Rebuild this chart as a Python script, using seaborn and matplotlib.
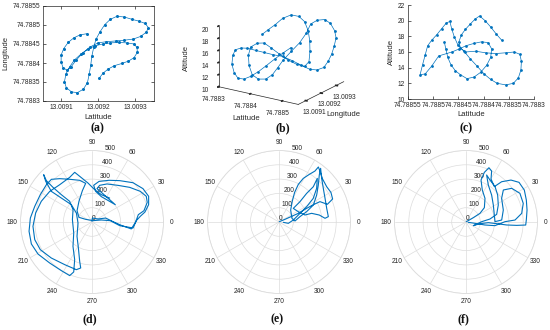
import numpy as np
import matplotlib
matplotlib.use('Agg')
import matplotlib.pyplot as plt
import seaborn as sns

BLUE = '#0072BD'
INK = '#262626'
GRID = '#dcdcdc'

# (a) flight track, latitude vs longitude
lat_a = [13.009202, 13.009212, 13.009226, 13.009243, 13.009264, 13.009281, 13.009296, 13.009305, 13.009304, 13.009296,
         13.009276, 13.009255, 13.009232, 13.009211, 13.009190, 13.009171, 13.009152, 13.009135, 13.009122, 13.009112,
         13.009108, 13.009113, 13.009127, 13.009143, 13.009159, 13.009170, 13.009175, 13.009179, 13.009182, 13.009187,
         13.009193, 13.009204, 13.009217, 13.009232, 13.009250, 13.009270, 13.009290, 13.009310, 13.009326, 13.009335,
         13.009329, 13.009314, 13.009294, 13.009270, 13.009246, 13.009221, 13.009199, 13.009177, 13.009158, 13.009140,
         13.009126, 13.009115, 13.009104, 13.009099, 13.009099, 13.009106, 13.009118, 13.009133, 13.009150, 13.009168]
lon_a = [74.788360, 74.788373, 74.788384, 74.788393, 74.788399, 74.788405, 74.788414, 74.788428, 74.788441, 74.788450,
         74.788453, 74.788454, 74.788453, 74.788450, 74.788445, 74.788436, 74.788423, 74.788408, 74.788390, 74.788371,
         74.788351, 74.788335, 74.788324, 74.788322, 74.788331, 74.788348, 74.788371, 74.788394, 74.788418, 74.788441,
         74.788462, 74.788482, 74.788501, 74.788515, 74.788523, 74.788521, 74.788515, 74.788510, 74.788504, 74.788493,
         74.788481, 74.788470, 74.788463, 74.788460, 74.788458, 74.788456, 74.788453, 74.788442, 74.788427, 74.788408,
         74.788390, 74.788381, 74.788388, 74.788403, 74.788421, 74.788438, 74.788454, 74.788466, 74.788474, 74.788477]

# (b) flight track in 3-D
lat_b = [74.788456, 74.788441, 74.788425, 74.788407, 74.788387, 74.788367, 74.788351, 74.788337, 74.788325, 74.788318,
         74.788321, 74.788329, 74.788347, 74.788361, 74.788378, 74.788395, 74.788414, 74.788434, 74.788455, 74.788474,
         74.788490, 74.788499, 74.788511, 74.788520, 74.788526, 74.788534, 74.788540, 74.788540, 74.788532, 74.788500,
         74.788476, 74.788465, 74.788466, 74.788459, 74.788447, 74.788432, 74.788423, 74.788412, 74.788396, 74.788377,
         74.788358, 74.788348, 74.788346, 74.788353, 74.788369, 74.788386, 74.788402, 74.788419, 74.788436, 74.788455,
         74.788475, 74.788493, 74.788501, 74.788505, 74.788505, 74.788465, 74.788433, 74.788404, 74.788377, 74.788359,
         74.788342, 74.788328]
lon_b = [13.009200, 13.009180, 13.009160, 13.009140, 13.009130, 13.009120, 13.009110, 13.009100, 13.009100, 13.009100,
         13.009100, 13.009100, 13.009100, 13.009110, 13.009130, 13.009150, 13.009170, 13.009190, 13.009210, 13.009230,
         13.009250, 13.009280, 13.009300, 13.009310, 13.009320, 13.009320, 13.009320, 13.009310, 13.009300, 13.009330,
         13.009330, 13.009310, 13.009280, 13.009250, 13.009220, 13.009200, 13.009180, 13.009170, 13.009160, 13.009150,
         13.009150, 13.009150, 13.009150, 13.009150, 13.009160, 13.009170, 13.009180, 13.009200, 13.009220, 13.009240,
         13.009250, 13.009240, 13.009230, 13.009220, 13.009210, 13.009270, 13.009300, 13.009310, 13.009310, 13.009300,
         13.009290, 13.009280]
alt_b = [16.4, 15.6, 14.7, 13.6, 12.5, 11.6, 11.1, 11.2, 12.0, 13.3,
         14.8, 15.8, 16.3, 16.3, 15.9, 15.5, 15.1, 14.8, 14.1, 13.3,
         12.6, 12.2, 12.5, 13.5, 14.6, 16.0, 17.5, 18.8, 20.0, 19.9,
         19.5, 19.0, 17.9, 16.6, 15.4, 14.1, 12.9, 11.8, 11.0, 10.9,
         11.4, 12.8, 14.5, 15.9, 16.6, 16.7, 16.0, 14.9, 13.9, 13.1,
         12.9, 14.0, 15.9, 17.8, 19.6, 19.9, 20.0, 19.8, 18.9, 17.8,
         16.9, 16.1]

# (c) altitude along the track
lat_c = [74.788478, 74.788475, 74.788471, 74.788465, 74.788456, 74.788446, 74.788433, 74.788419, 74.788406, 74.788394,
         74.788386, 74.788384, 74.788391, 74.788404, 74.788419, 74.788435, 74.788448, 74.788463, 74.788489, 74.788503,
         74.788516, 74.788526, 74.788521, 74.788516, 74.788511, 74.788503, 74.788493, 74.788483, 74.788474, 74.788467,
         74.788463, 74.788458, 74.788451, 74.788439, 74.788426, 74.788413, 74.788399, 74.788386, 74.788373, 74.788356,
         74.788341, 74.788331, 74.788326, 74.788325, 74.788328, 74.788339, 74.788356, 74.788376, 74.788396, 74.788416,
         74.788436, 74.788446, 74.788449, 74.788444, 74.788436, 74.788426, 74.788417, 74.788408, 74.788397, 74.788386,
         74.788375, 74.788364]
alt_c = [17.3, 16.4, 15.3, 14.4, 13.6, 13.1, 12.6, 12.8, 13.4, 14.3,
         15.3, 16.4, 17.2, 17.3, 17.1, 16.8, 16.4, 16.0, 15.5, 14.2,
         13.2, 13.1, 14.4, 15.6, 16.8, 17.5, 18.2, 19.0, 19.7, 19.9,
         18.9, 17.9, 16.9, 16.1, 15.1, 14.2, 13.2, 12.5, 12.0, 11.8,
         12.0, 12.7, 13.7, 14.8, 15.7, 16.0, 15.9, 15.8, 15.9, 16.1,
         16.0, 16.5, 17.3, 18.2, 18.9, 19.6, 20.2, 20.6, 20.0, 19.2,
         18.3, 17.5]

# (d)-(f) polar tracks: angle in degrees, radius
theta_d = [90, 85, 27, 16, 2, -6.5, -10, 0, 9, 12.3,
           19.6, 25.3, 32.4, 42.6, 54.7, 68.5, 78.2, 81.5, 68.8, 51.7,
           36.6, 52.6, 69.8, 83.2, 87.4, 80.2, 67.8, 56.2, 43.8, 33.2,
           24.4, 17, 10.7, 6.7, 1.7, -8.3, -7.5, 4.2, 12.1, 53,
           157.2, 160.3, 142.9, 122.2, 107.1, 99.3, 106.5, 117.6, 126.7, 133.6,
           140.7, 152.1, 164.7, 176.3, 188.4, 199.9, 210.7, 224.1, 237.8, 247.4,
           249.9, 245.3, 232, 211, 173.2, 147, 137.2, 138.3, 138.4, 137.8,
           135.6, 138.7, 143, 142, 140, 150.1, 184.1, 223.7, 242.3, 252.6,
           256.2, 251.8, 237.4, 221.5, 208.2, 197.1, 184.2, 170.9, 157.8, 144.1,
           130.9, 116.6, 109.2, 105.1, 95.9, 85.3, 71.1, 53.6]
r_d = [5, 28, 47, 100, 142, 206, 279, 305, 328, 372,
       410, 420, 400, 358, 314, 286, 262, 236, 212, 199,
       203, 188, 189, 216, 257, 288, 315, 348, 397, 426,
       435, 414, 377, 340, 310, 290, 195, 128, 67, 12,
       48, 97, 131, 171, 229, 274, 304, 337, 378, 412,
       412, 409, 415, 432, 445, 451, 439, 412, 402, 406,
       372, 290, 216, 149, 138, 158, 213, 287, 365, 431,
       473, 431, 356, 272, 189, 126, 98, 145, 205, 288,
       331, 351, 354, 380, 410, 419, 414, 399, 383, 365,
       345, 349, 368, 331, 274, 227, 202, 208]

theta_e = [45, 24, 24.1, 24.1, 26, 26.8, 26.4, 20.1, 23.2, 29.7,
           36.5, 44.6, 51.2, 54.4, 54.8, 57.5, 60.9, 62.8, 62.2, 57.6,
           45.8, 15.8, 3.6, 14.3, 20.5, 26.3, 35.6, 43.2, 49.4, 52.2,
           45.7, 37.2, 27.2, 16, 6.2, 4.6, 9.8, 14.9, 15.1, 28.1,
           43.6, 44.1, 46, 45.8, 48.7, 41.8, 34.6, 29, 22.4, 7.9,
           -8.1, -4.4]
r_e = [3, 46, 97, 148, 202, 264, 320, 360, 408, 418,
       415, 428, 457, 473, 436, 395, 349, 296, 234, 174,
       117, 94, 112, 151, 206, 268, 324, 377, 433, 475,
       427, 389, 362, 347, 347, 323, 286, 236, 188, 153,
       138, 204, 278, 344, 406, 353, 291, 221, 159, 101,
       66, 30]

theta_f = [45, 30.6, 31.8, 38, 51.2, 63, 70.3, 69.7, 67.1, 63.3,
           59.8, 51.3, 48.5, 43, 36.8, 28.7, 20, 11.1, 1.9, -2.9,
           -3.8, -4.2, -3.1, -1.7, -6.8, -26.6, 1.2, 7.1, 14, 27.7,
           40.5, 50.6, 60.3, 66.3, 58.9, 46.4, 31.9, 13.9, 0.7, 3.2,
           17.8, 33.6, 40.6, 36.4, 28, 18, 8.8, 2.3, 0.5, -7.2,
           -9, -8.4, -8.1]
r_f = [3, 60, 115, 163, 212, 251, 312, 370, 412, 399,
       348, 317, 376, 430, 463, 465, 449, 435, 422, 418,
       355, 285, 215, 156, 99, 57, 110, 169, 221, 255,
       291, 320, 338, 359, 302, 260, 225, 204, 203, 250,
       274, 299, 344, 397, 427, 421, 394, 343, 273, 204,
       134, 64, 16]

lat_ticks_a = [13.0091, 13.0092, 13.0093]
lon_ticks_a = [74.7883, 74.78835, 74.7884, 74.78845, 74.7885, 74.78855]
lat_ticks_b = [74.7883, 74.7884, 74.7885]
lon_ticks_b = [13.0091, 13.0092, 13.0093]
alt_ticks_b = [10, 12, 14, 16, 18, 20]
alt_ticks_c = [10, 12, 14, 16, 18, 20, 22]
polar_angles = list(range(0, 360, 30))
polar_rings = [0, 100, 200, 300, 400, 500]


def fmt(v):
    return f'{v:.5f}'.rstrip('0')


sns.set_theme(style='white')
plt.rcParams['font.family'] = ['Liberation Sans', 'DejaVu Sans']
plt.rcParams['axes.linewidth'] = 0.5
plt.rcParams['text.color'] = INK

fig = plt.figure(figsize=(5.5, 3.3), dpi=100)


def style_2d(ax):
    ax.tick_params(direction='in', length=2, width=0.5, labelsize=4.8,
                   colors=INK, pad=2)
    for s in ax.spines.values():
        s.set_color(INK)
        s.set_linewidth(0.5)


# ---- (a)
ax_a = fig.add_axes([43 / 550, 1 - 101 / 330, 111 / 550, 95 / 330])
sns.lineplot(x=lat_a, y=lon_a, sort=False, estimator=None, ax=ax_a, color=BLUE,
             linewidth=0.5, marker='o', markersize=2.2, markeredgewidth=0)
ax_a.set_xlim(13.00905, 13.00935)
ax_a.set_ylim(74.7883, 74.78855)
ax_a.set_xticks(lat_ticks_a, [fmt(v) for v in lat_ticks_a])
ax_a.set_yticks(lon_ticks_a, [fmt(v) for v in lon_ticks_a])
ax_a.tick_params(top=True, right=True, bottom=True, left=True)
style_2d(ax_a)
ax_a.set_xlabel('Latitude', fontsize=5.5, color=INK, labelpad=2)
ax_a.set_ylabel('Longitude', fontsize=5.5, color=INK, labelpad=2)

# ---- (c)
ax_c = fig.add_axes([408 / 550, 1 - 99 / 330, 126 / 550, 94 / 330])
sns.lineplot(x=lat_c, y=alt_c, sort=False, estimator=None, ax=ax_c, color=BLUE,
             linewidth=0.5, marker='o', markersize=2.0, markeredgewidth=0)
ax_c.set_xlim(74.78855, 74.7883)
ax_c.set_ylim(10, 22)
ax_c.set_xticks(lon_ticks_a[::-1], [fmt(v) for v in lon_ticks_a[::-1]])
ax_c.set_yticks(alt_ticks_c, [str(v) for v in alt_ticks_c])
ax_c.tick_params(bottom=True, left=True)
style_2d(ax_c)
ax_c.tick_params(axis='x', pad=2.5)
ax_c.spines['top'].set_visible(False)
ax_c.spines['right'].set_visible(False)
ax_c.set_xlabel('Latitude', fontsize=5.5, color=INK, labelpad=1)
ax_c.set_ylabel('Altitude', fontsize=5.5, color=INK, labelpad=2)

# ---- (b) 3-D view
ax_b = fig.add_axes([187 / 550, 1 - 118 / 330, 185 / 550, 125 / 330], projection='3d')
ax_b.plot(lat_b, lon_b, alt_b, color=BLUE, linewidth=0.5, marker='o',
          markersize=2.0, markeredgewidth=0)
ax_b.set_proj_type('ortho')
ax_b.view_init(elev=19.5, azim=-56.3)
ax_b.set_xlim(74.7883, 74.78855)
ax_b.set_ylim(13.00905, 13.00935)
ax_b.set_zlim(10, 20)
ax_b.set_box_aspect((1, 0.857, 0.672), zoom=1.1)
ax_b.set_facecolor('none')
ax_b.grid(False)
for axis in (ax_b.xaxis, ax_b.yaxis, ax_b.zaxis):
    axis.set_pane_color((1, 1, 1, 0))
    axis.pane.set_edgecolor((1, 1, 1, 0))
    axis.line.set_color(INK)
    axis.line.set_linewidth(0.5)
    axis.set_rotate_label(False)
ax_b.zaxis.set_ticks_position('lower')
ax_b.zaxis.set_label_position('lower')
ax_b.set_xticks(lat_ticks_b, [fmt(v) for v in lat_ticks_b])
ax_b.set_yticks(lon_ticks_b, [fmt(v) for v in lon_ticks_b])
ax_b.set_zticks(alt_ticks_b, [str(v) for v in alt_ticks_b])
ax_b.tick_params(labelsize=4.8, colors=INK, pad=-3)
ax_b.set_xlabel('Latitude', fontsize=5.5, color=INK, labelpad=-8, rotation=0)
ax_b.set_ylabel('Longitude', fontsize=5.5, color=INK, labelpad=-8, rotation=0)
ax_b.set_zlabel('Altitude', fontsize=5.5, color=INK, labelpad=-9, rotation=90)

# ---- (d)-(f) polar
polar_sets = [(theta_d, r_d, 92), (theta_e, r_e, 279), (theta_f, r_f, 466)]
for theta, r, cx in polar_sets:
    ax = fig.add_axes([(cx - 71.5) / 550, 1 - (222 + 71.5) / 330, 143 / 550, 143 / 330],
                      projection='polar')
    sns.lineplot(x=np.deg2rad(theta), y=r, sort=False, estimator=None, ax=ax,
                 color=BLUE, linewidth=0.8)
    ax.set_rlim(0, 500)
    ax.set_rticks(polar_rings)
    ax.set_rlabel_position(80)
    ax.set_thetagrids(polar_angles, [str(a) for a in polar_angles])
    ax.grid(True, color=GRID, linewidth=0.5)
    ax.spines['polar'].set_color(GRID)
    ax.spines['polar'].set_linewidth(0.6)
    ax.tick_params(axis='x', labelsize=4.8, colors=INK, pad=-7)
    ax.tick_params(axis='y', labelsize=4.8, colors=INK)
    ax.set_xlabel('')
    ax.set_ylabel('')
    ax.set_facecolor('white')

# panel letters
letters = [('(a)', 97, 128), ('(b)', 283, 128), ('(c)', 466, 128),
           ('(d)', 90, 319), ('(e)', 277, 319), ('(f)', 463, 319)]
for txt, px, py in letters:
    fig.text(px / 550, 1 - py / 330, txt, ha='center', va='center', fontsize=8.5,
             family=['Liberation Serif', 'DejaVu Serif'], fontweight='bold', color='#111111')

fig.savefig('out.png', dpi=100)
